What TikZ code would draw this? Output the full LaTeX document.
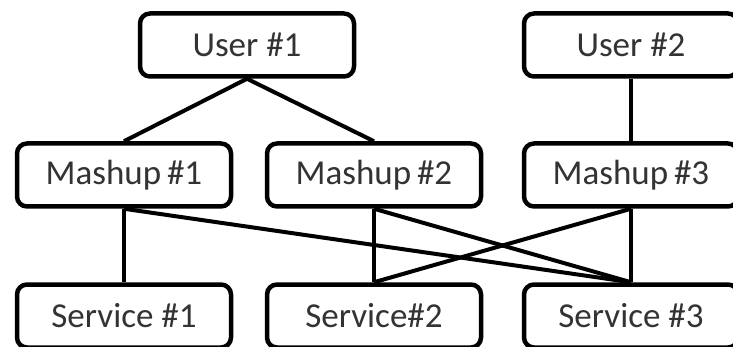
\documentclass[tikz,border=0pt]{standalone}
\usepackage{fontspec}
\setmainfont{Carlito}
\begin{document}
\begin{tikzpicture}[x=1pt,y=-1pt,
  box/.style={draw=black, line width=4.5pt, rounded corners=10pt, fill=white,
    minimum width=214pt, minimum height=63pt, inner sep=0pt,
    font=\fontsize{35}{40}\selectfont, text=black!80},
  link/.style={draw=black, line width=4pt}]
\useasboundingbox (0,0) rectangle (733,347);
\clip (0,0) rectangle (733,347);
\node[box] (u1) at (247,45) {User \#1};
\node[box] (u2) at (631,45) {User \#2};
\node[box] (m1) at (124,175) {Mashup\,\#1};
\node[box] (m2) at (374,175) {Mashup\,\#2};
\node[box] (m3) at (631,175) {Mashup\,\#3};
\node[box] (s1) at (124,316) {Service \#1};
\node[box] (s2) at (374,316) {Service\#2};
\node[box] (s3) at (631,316) {Service \#3};
\draw[link] (u1.south) -- (m1.north);
\draw[link] (u1.south) -- (m2.north);
\draw[link] (u2.south) -- (m3.north);
\draw[link] (m1.south) -- (s1.north);
\draw[link] (m1.south) -- (s3.north);
\draw[link] (m2.south) -- (s2.north);
\draw[link] (m2.south) -- (s3.north);
\draw[link] (m3.south) -- (s3.north);
\draw[link] (m3.south) -- (s2.north);
\end{tikzpicture}
\end{document}
